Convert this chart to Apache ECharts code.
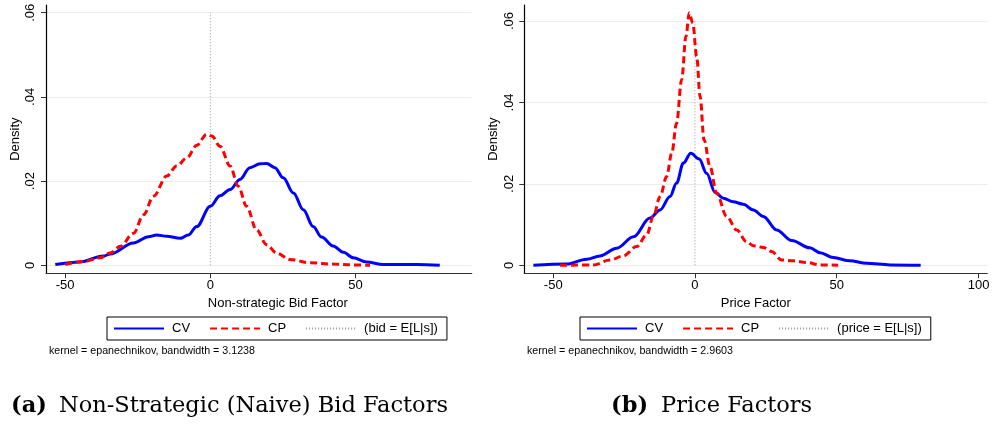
<!DOCTYPE html>
<html><head><meta charset="utf-8">
<script src="https://cdn.jsdelivr.net/npm/echarts@6/dist/echarts.min.js"></script>
<style>html,body{margin:0;padding:0;background:#fff}#c{width:993px;height:424px}</style>
</head><body><div id="c"></div>
<script>
// ---- data ----
const yTicks = [0, 0.02, 0.04, 0.06];
const bidXTicks = [-50, 0, 50];
const priceXTicks = [-50, 0, 50, 100];

const bidCV = [[-53.4,0.0002],[-45,0.0008],[-36.8,0.0022],[-34.5,0.0027],[-26.5,0.0053],[-21.3,0.0068],[-18.5,0.0072],[-15,0.0069],[-10.4,0.0064],[-7.6,0.0072],[-4.7,0.0092],[0,0.014],[3.3,0.0165],[6.8,0.018],[10.2,0.0204],[13.6,0.0232],[17.1,0.0241],[19.4,0.0242],[22.2,0.0232],[25.1,0.0208],[28.6,0.0172],[32,0.0132],[35.4,0.0092],[38.3,0.0067],[42.3,0.0046],[45.8,0.0031],[49.2,0.0018],[53.8,0.0008],[59.5,0.0002],[71,0.0002],[79,0]];
const bidCP = [[-50,0.0002],[-43.7,0.0009],[-38,0.0018],[-34.5,0.0029],[-31,0.0045],[-26.5,0.0076],[-23,0.012],[-19.6,0.0164],[-15,0.0212],[-11.6,0.0236],[-8.1,0.0255],[-4.7,0.0285],[-1.3,0.0311],[0.5,0.0307],[3.3,0.0283],[6.8,0.0236],[9.6,0.0188],[12.5,0.014],[15.9,0.0084],[19.4,0.0049],[22.8,0.0029],[27.4,0.0014],[34.3,0.0006],[42.3,0.0003],[49.2,0.0001],[55,0]];
const priceCV = [[-57,0],[-45.3,0.0003],[-38.2,0.0015],[-33.5,0.0023],[-27.6,0.0042],[-21.7,0.007],[-15.9,0.0116],[-12.3,0.0136],[-8.8,0.0169],[-6.5,0.0202],[-4.1,0.0251],[-1.5,0.0275],[1.5,0.0261],[4.1,0.0226],[7.1,0.0179],[10,0.0165],[13.5,0.0156],[17,0.015],[20.6,0.0136],[24.1,0.012],[28.8,0.0087],[34.1,0.0061],[40.5,0.0043],[44.1,0.0031],[48.8,0.0019],[54.6,0.0011],[60.5,0.0005],[68.8,0.0001],[79.6,0]];
const priceCP = [[-47.6,0],[-35.9,0.0001],[-30,0.0013],[-25.3,0.0023],[-20.6,0.0046],[-17,0.0075],[-14.7,0.012],[-12.3,0.0169],[-10,0.0218],[-8.2,0.0275],[-6.5,0.0349],[-4.7,0.0456],[-3.2,0.0562],[-2,0.062],[-0.8,0.0595],[0.6,0.0513],[1.8,0.0415],[3.2,0.0308],[5.3,0.0243],[7.6,0.0177],[11.2,0.012],[14.7,0.0087],[18.2,0.0058],[20.6,0.0048],[24.1,0.0044],[27,0.0034],[30.6,0.0013],[34.7,0.0011],[39.4,0.0007],[44.1,0.0001],[50.5,0]];
const refLine = [[0,0],[0,0.06]];

const names = {cv:'CV', cp:'CP', bidRef:'(bid = E[L|s])', priceRef:'(price = E[L|s])'};
const xTitles = ['Non-strategic Bid Factor', 'Price Factor'];
const yTitle = 'Density';
const notes = ['kernel = epanechnikov, bandwidth = 3.1238', 'kernel = epanechnikov, bandwidth = 2.9603'];
const captionTags = ['(a)', '(b)'];
const captions = ['Non-Strategic (Naive) Bid Factors', 'Price Factors'];

// ---- chart ----
const SANS = 'Liberation Sans, Arial, sans-serif';
const SERIF = 'DejaVu Serif, serif';
const axisColor = '#333';
const gridColor = '#e8eef0';
const yFmt = v => v === 0 ? '0' : String(+v.toFixed(2)).replace(/^0\./, '.');

function xAxis(idx, ticks, min, max, title, shift) {
  return {
    type: 'value', gridIndex: idx, min: min, max: max,
    axisLine: {show: true, onZero: false, lineStyle: {color: axisColor, width: 1.2}},
    axisTick: {show: true, length: 5, customValues: ticks, lineStyle: {color: axisColor}},
    axisLabel: {customValues: ticks, margin: 6, fontSize: 13, fontFamily: SANS, color: '#000'},
    splitLine: {show: false},
    name: title, nameLocation: 'middle', nameGap: 21,
    nameTextStyle: {fontSize: 13, fontFamily: SANS, color: '#000', padding: [0, 0, 0, shift]}
  };
}
function yAxis(idx, min, max, margin) {
  return {
    type: 'value', gridIndex: idx, min: min, max: max,
    axisLine: {show: true, onZero: false, lineStyle: {color: '#000', width: 1.2}},
    axisTick: {show: true, length: 5, customValues: yTicks, lineStyle: {color: axisColor}},
    axisLabel: {customValues: yTicks, rotate: 90, margin: margin, fontSize: 13, fontFamily: SANS, color: '#000', formatter: yFmt},
    splitLine: {show: true, lineStyle: {color: gridColor, width: 1}},
    name: yTitle, nameLocation: 'middle', nameGap: 24,
    nameTextStyle: {fontSize: 13, fontFamily: SANS, color: '#000'}
  };
}
function cvSeries(idx, data) {
  return {name: names.cv, type: 'line', xAxisIndex: idx, yAxisIndex: idx, data: data, symbol: 'none',
    smooth: 0.35, smoothMonotone: 'x', lineStyle: {color: '#0000ff', width: 3}, itemStyle: {color: '#0000ff'}};
}
function cpSeries(idx, data) {
  return {name: names.cp, type: 'line', xAxisIndex: idx, yAxisIndex: idx, data: data, symbol: 'none',
    smooth: 0.35, smoothMonotone: 'x', lineStyle: {color: '#ff0000', width: 3, type: [7, 4]}, itemStyle: {color: '#ff0000'}};
}
function refSeries(idx, name) {
  return {name: name, type: 'line', xAxisIndex: idx, yAxisIndex: idx, data: refLine, symbol: 'none',
    lineStyle: {color: '#999', width: 1, type: [1, 2]}, itemStyle: {color: '#999'}, z: 1};
}
function legend(left, refName) {
  return {
    left: left, top: 317, orient: 'horizontal', selectedMode: false,
    data: [names.cv, names.cp, refName],
    itemWidth: 50, itemHeight: 14, itemGap: 19,
    itemStyle: {opacity: 0},
    borderColor: '#000', borderWidth: 1, padding: [5, 9, 5, 6],
    textStyle: {fontSize: 13, fontFamily: SANS, color: '#000', padding: [0, 0, 0, 3]}
  };
}

const chart = echarts.init(document.getElementById('c'), null, {renderer: 'canvas'});
chart.setOption({
  animation: false,
  backgroundColor: '#fff',
  grid: [
    {left: 46, top: 5, width: 425.7, height: 268.3, containLabel: false},
    {left: 524.3, top: 5, width: 463, height: 268.3, containLabel: false}
  ],
  xAxis: [xAxis(0, bidXTicks, -56.6, 90, xTitles[0], 38), xAxis(1, priceXTicks, -60.2, 103.1, xTitles[1], 0)],
  yAxis: [yAxis(0, -0.0019, 0.06183, 9), yAxis(1, -0.00196, 0.06393, 8)],
  legend: [legend(107, names.bidRef), legend(580, names.priceRef)],
  series: [
    refSeries(0, names.bidRef), cvSeries(0, bidCV), cpSeries(0, bidCP),
    refSeries(1, names.priceRef), cvSeries(1, priceCV), cpSeries(1, priceCP)
  ],
  graphic: [
    {type: 'text', left: 49, top: 346, style: {text: notes[0], fontSize: 10.7, fontFamily: SANS, fill: '#000'}},
    {type: 'text', left: 527, top: 346, style: {text: notes[1], fontSize: 10.7, fontFamily: SANS, fill: '#000'}},
    {type: 'text', left: 11, top: 395, style: {text: captionTags[0], fontSize: 22.5, fontWeight: 'bold', fontFamily: SERIF, fill: '#000'}},
    {type: 'text', left: 59, top: 395, style: {text: captions[0], fontSize: 22.5, fontFamily: SERIF, fill: '#000'}},
    {type: 'text', left: 611, top: 395, style: {text: captionTags[1], fontSize: 22.5, fontWeight: 'bold', fontFamily: SERIF, fill: '#000'}},
    {type: 'text', left: 661, top: 395, style: {text: captions[1], fontSize: 22.5, fontFamily: SERIF, fill: '#000'}}
  ]
});
</script></body></html>
